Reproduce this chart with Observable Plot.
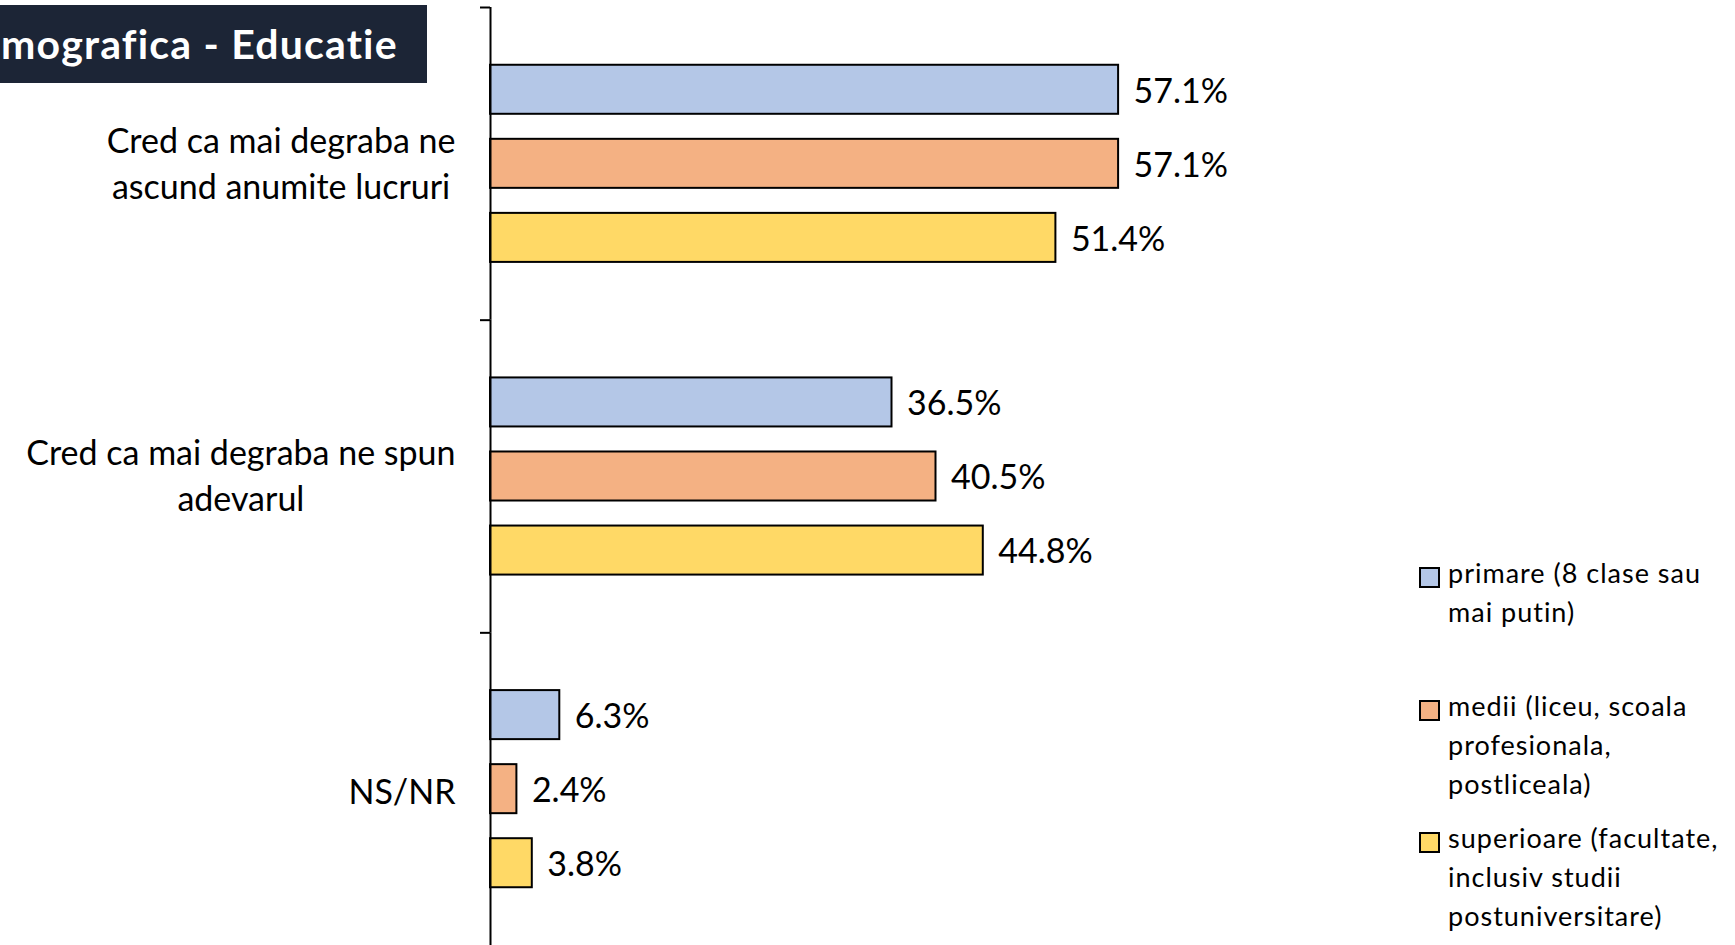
<!DOCTYPE html>
<html>
<head>
<meta charset="utf-8">
<script src="https://cdn.jsdelivr.net/npm/d3@7"></script>
<script src="https://cdn.jsdelivr.net/npm/@observablehq/plot@0.6"></script>
<style>
  html, body { margin: 0; padding: 0; background: #fff; overflow: hidden; }
  #wrap { position: relative; width: 1735px; height: 945px; font-family: Lato, sans-serif; }
  #title { position: absolute; left: 0; top: 5px; width: 427px; height: 78px; background: #1c2536;
           color: #fff; font-weight: 700; font-size: 41px; letter-spacing: 1.2px; line-height: 78px; padding-left: 1px;
           box-sizing: border-box; white-space: nowrap; overflow: hidden; }
  #legend { position: absolute; left: 1419px; top: 0; color: #000; font-size: 27px; letter-spacing: 1px; line-height: 39px; }
  .item { position: absolute; left: 0; white-space: nowrap; }
  .sw { position: absolute; left: 0; top: 14px; width: 17px; height: 17px; border: 2px solid #000; }
  .lab { position: absolute; left: 29px; top: 0; }
</style>
</head>
<body>
<div id="wrap"></div>
<script>
// ---- data ----
const titleText = "mografica - Educatie";
const questions = [
  "Cred ca mai degraba ne ascund anumite lucruri",
  "Cred ca mai degraba ne spun adevarul",
  "NS/NR"
];
const questionLines = [
  ["Cred ca mai degraba ne", "ascund anumite lucruri"],
  ["Cred ca mai degraba ne spun", "adevarul"],
  ["NS/NR"]
];
const levels = [
  "primare (8 clase sau mai putin)",
  "medii (liceu, scoala profesionala, postliceala)",
  "superioare (facultate, inclusiv studii postuniversitare)"
];
const levelLines = [
  ["primare (8 clase sau", "mai putin)"],
  ["medii (liceu, scoala", "profesionala,", "postliceala)"],
  ["superioare (facultate,", "inclusiv studii", "postuniversitare)"]
];
const primare = [57.1, 36.5, 6.3];
const medii = [57.1, 40.5, 2.4];
const superioare = [51.4, 44.8, 3.8];
const colors = ["#b4c7e7", "#f4b183", "#ffd966"];

// ---- table ----
const series = [primare, medii, superioare];
const rows = [];
questions.forEach((q, i) => levels.forEach((l, j) => rows.push({q, level: l, value: series[j][i]})));

const W = 1735, H = 945;
const mLeft = 490, mTop = 7, mRight = 145, mBottom = 0;
const fontSize = 34;
const band = (H - mTop - mBottom) / questions.length;

// measure label widths to centre the wrapped category labels like the original
const ctx = document.createElement("canvas").getContext("2d");
ctx.font = `${fontSize}px Lato`;
const labelRight = 455; // px
const labelMarks = questions.map((q, i) => {
  const w = d3.max(questionLines[i], s => ctx.measureText(s).width);
  const cx = labelRight - w / 2;
  return Plot.text([q], {
    fy: d => d, x: 0, text: () => questionLines[i].join("\n"),
    textAnchor: "middle", lineHeight: 1.353, fontSize, fill: "#000",
    dx: cx - mLeft, dy: questionLines[i].length > 1 ? -3 : 0
  });
});

const fmt = d3.format(".1f");

const chart = Plot.plot({
  width: W, height: H,
  marginLeft: mLeft, marginRight: mRight, marginTop: mTop, marginBottom: mBottom,
  style: {fontFamily: "Lato, sans-serif", fontSize: fontSize + "px", background: "#fff", color: "#000"},
  x: {domain: [0, 100], axis: null},
  y: {domain: levels, axis: null, paddingInner: 0.338, paddingOuter: 0.78, round: false},
  fy: {domain: questions, padding: 0, round: false, label: null},
  color: {domain: levels, range: colors},
  marks: [
    Plot.barX(rows, {x: "value", y: "level", fy: "q", fill: "level", stroke: "#000", strokeWidth: 2}),
    Plot.text(rows, {x: "value", y: "level", fy: "q", text: d => fmt(d.value) + "%",
      textAnchor: "start", dx: 15, dy: 2, fontSize, fill: "#000"}),
    Plot.ruleX([0], {stroke: "#000", strokeWidth: 2}),
    Plot.axisFy({anchor: "left", label: null, tickSize: 10, tickFormat: () => "", stroke: "#000", strokeWidth: 2,
      dy: -band / 2, tickPadding: 0}),
    ...labelMarks
  ]
});

const wrap = document.getElementById("wrap");
wrap.appendChild(chart);

// title
const t = document.createElement("div");
t.id = "title";
t.textContent = titleText;
wrap.appendChild(t);

// legend
const legend = d3.select(wrap).append("div").attr("id", "legend");
const itemTops = [553, 686, 818];
levels.forEach((l, j) => {
  const it = legend.append("div").attr("class", "item").style("top", itemTops[j] + "px");
  it.append("div").attr("class", "sw").style("background", colors[j]);
  it.append("div").attr("class", "lab").html(levelLines[j].join("<br>"));
});
</script>
</body>
</html>
